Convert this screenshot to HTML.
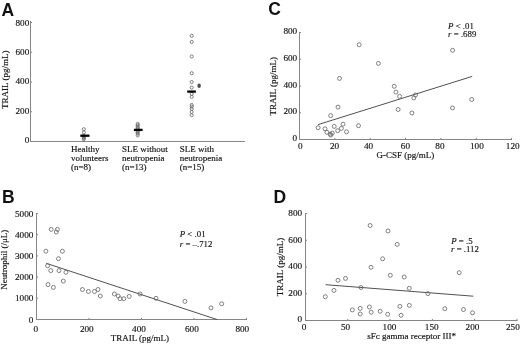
<!DOCTYPE html>
<html><head><meta charset="utf-8"><title>Figure</title>
<style>
html,body{margin:0;padding:0;background:#fff;}
body{width:520px;height:345px;overflow:hidden;font-family:"Liberation Serif",serif;}
svg{display:block;will-change:transform;filter:blur(0.3px);}
</style></head>
<body>
<svg width="520" height="345" viewBox="0 0 520 345"><line x1="30.50" y1="21.00" x2="30.50" y2="142.00" stroke="#858585" stroke-width="1.0"/><line x1="30.00" y1="141.50" x2="245.00" y2="141.50" stroke="#858585" stroke-width="1.0"/><line x1="30.50" y1="141.50" x2="32.10" y2="141.50" stroke="#858585" stroke-width="1.0"/><line x1="30.50" y1="111.75" x2="32.10" y2="111.75" stroke="#858585" stroke-width="1.0"/><line x1="30.50" y1="82.00" x2="32.10" y2="82.00" stroke="#858585" stroke-width="1.0"/><line x1="30.50" y1="52.25" x2="32.10" y2="52.25" stroke="#858585" stroke-width="1.0"/><line x1="30.50" y1="22.50" x2="32.10" y2="22.50" stroke="#858585" stroke-width="1.0"/><line x1="299.50" y1="32.00" x2="299.50" y2="140.00" stroke="#858585" stroke-width="1.0"/><line x1="299.00" y1="139.50" x2="512.00" y2="139.50" stroke="#858585" stroke-width="1.0"/><line x1="299.50" y1="139.50" x2="301.10" y2="139.50" stroke="#858585" stroke-width="1.0"/><line x1="299.50" y1="112.75" x2="301.10" y2="112.75" stroke="#858585" stroke-width="1.0"/><line x1="299.50" y1="86.00" x2="301.10" y2="86.00" stroke="#858585" stroke-width="1.0"/><line x1="299.50" y1="59.25" x2="301.10" y2="59.25" stroke="#858585" stroke-width="1.0"/><line x1="299.50" y1="32.50" x2="301.10" y2="32.50" stroke="#858585" stroke-width="1.0"/><line x1="334.83" y1="139.50" x2="334.83" y2="137.90" stroke="#858585" stroke-width="1.0"/><line x1="370.17" y1="139.50" x2="370.17" y2="137.90" stroke="#858585" stroke-width="1.0"/><line x1="405.50" y1="139.50" x2="405.50" y2="137.90" stroke="#858585" stroke-width="1.0"/><line x1="440.83" y1="139.50" x2="440.83" y2="137.90" stroke="#858585" stroke-width="1.0"/><line x1="476.17" y1="139.50" x2="476.17" y2="137.90" stroke="#858585" stroke-width="1.0"/><line x1="511.50" y1="139.50" x2="511.50" y2="137.90" stroke="#858585" stroke-width="1.0"/><line x1="318.10" y1="124.60" x2="472.20" y2="76.40" stroke="#505050" stroke-width="1.0"/><line x1="36.50" y1="213.00" x2="36.50" y2="320.00" stroke="#858585" stroke-width="1.0"/><line x1="36.00" y1="319.50" x2="247.00" y2="319.50" stroke="#858585" stroke-width="1.0"/><line x1="36.50" y1="319.50" x2="38.10" y2="319.50" stroke="#858585" stroke-width="1.0"/><line x1="36.50" y1="298.30" x2="38.10" y2="298.30" stroke="#858585" stroke-width="1.0"/><line x1="36.50" y1="277.10" x2="38.10" y2="277.10" stroke="#858585" stroke-width="1.0"/><line x1="36.50" y1="255.90" x2="38.10" y2="255.90" stroke="#858585" stroke-width="1.0"/><line x1="36.50" y1="234.70" x2="38.10" y2="234.70" stroke="#858585" stroke-width="1.0"/><line x1="36.50" y1="213.50" x2="38.10" y2="213.50" stroke="#858585" stroke-width="1.0"/><line x1="89.00" y1="319.50" x2="89.00" y2="317.90" stroke="#858585" stroke-width="1.0"/><line x1="141.50" y1="319.50" x2="141.50" y2="317.90" stroke="#858585" stroke-width="1.0"/><line x1="194.00" y1="319.50" x2="194.00" y2="317.90" stroke="#858585" stroke-width="1.0"/><line x1="246.50" y1="319.50" x2="246.50" y2="317.90" stroke="#858585" stroke-width="1.0"/><line x1="46.20" y1="263.30" x2="217.30" y2="319.60" stroke="#505050" stroke-width="1.0"/><line x1="305.50" y1="213.00" x2="305.50" y2="321.00" stroke="#858585" stroke-width="1.0"/><line x1="305.00" y1="320.50" x2="517.50" y2="320.50" stroke="#858585" stroke-width="1.0"/><line x1="305.50" y1="320.50" x2="307.10" y2="320.50" stroke="#858585" stroke-width="1.0"/><line x1="305.50" y1="293.75" x2="307.10" y2="293.75" stroke="#858585" stroke-width="1.0"/><line x1="305.50" y1="267.00" x2="307.10" y2="267.00" stroke="#858585" stroke-width="1.0"/><line x1="305.50" y1="240.25" x2="307.10" y2="240.25" stroke="#858585" stroke-width="1.0"/><line x1="305.50" y1="213.50" x2="307.10" y2="213.50" stroke="#858585" stroke-width="1.0"/><line x1="347.80" y1="320.50" x2="347.80" y2="318.90" stroke="#858585" stroke-width="1.0"/><line x1="390.10" y1="320.50" x2="390.10" y2="318.90" stroke="#858585" stroke-width="1.0"/><line x1="432.40" y1="320.50" x2="432.40" y2="318.90" stroke="#858585" stroke-width="1.0"/><line x1="474.70" y1="320.50" x2="474.70" y2="318.90" stroke="#858585" stroke-width="1.0"/><line x1="517.00" y1="320.50" x2="517.00" y2="318.90" stroke="#858585" stroke-width="1.0"/><line x1="325.50" y1="284.70" x2="473.30" y2="296.20" stroke="#505050" stroke-width="1.0"/><g fill="none" stroke="#6a6a6a" stroke-width="0.85"><circle cx="83.80" cy="129.20" r="1.55"/><circle cx="83.80" cy="132.40" r="1.55"/><circle cx="83.80" cy="135.90" r="1.55"/><circle cx="83.80" cy="136.90" r="1.55"/><circle cx="83.80" cy="138.00" r="1.55"/><circle cx="83.80" cy="139.20" r="1.55"/><circle cx="137.70" cy="123.90" r="1.55"/><circle cx="137.70" cy="125.20" r="1.55"/><circle cx="137.70" cy="126.60" r="1.55"/><circle cx="137.70" cy="128.00" r="1.55"/><circle cx="137.70" cy="129.50" r="1.55"/><circle cx="137.70" cy="131.20" r="1.55"/><circle cx="137.70" cy="132.40" r="1.55"/><circle cx="137.70" cy="133.70" r="1.55"/><circle cx="137.70" cy="135.40" r="1.55"/><circle cx="191.70" cy="35.80" r="1.55"/><circle cx="191.70" cy="41.90" r="1.55"/><circle cx="191.70" cy="56.50" r="1.55"/><circle cx="191.70" cy="73.20" r="1.55"/><circle cx="191.70" cy="82.00" r="1.55"/><circle cx="191.70" cy="87.60" r="1.55"/><circle cx="191.70" cy="94.00" r="1.55"/><circle cx="191.70" cy="96.80" r="1.55"/><circle cx="191.70" cy="104.90" r="1.55"/><circle cx="191.70" cy="106.60" r="1.55"/><circle cx="191.70" cy="109.00" r="1.55"/><circle cx="191.70" cy="112.00" r="1.55"/><circle cx="191.70" cy="115.20" r="1.55"/><circle cx="359.20" cy="44.80" r="1.98"/><circle cx="378.40" cy="63.40" r="1.98"/><circle cx="339.50" cy="78.40" r="1.98"/><circle cx="452.60" cy="50.30" r="1.98"/><circle cx="394.20" cy="86.30" r="1.98"/><circle cx="395.90" cy="92.10" r="1.98"/><circle cx="399.60" cy="96.40" r="1.98"/><circle cx="415.50" cy="95.00" r="1.98"/><circle cx="413.80" cy="97.90" r="1.98"/><circle cx="398.10" cy="109.50" r="1.98"/><circle cx="411.90" cy="113.00" r="1.98"/><circle cx="338.00" cy="107.10" r="1.98"/><circle cx="330.70" cy="115.60" r="1.98"/><circle cx="358.50" cy="125.70" r="1.98"/><circle cx="452.50" cy="107.90" r="1.98"/><circle cx="471.70" cy="99.50" r="1.98"/><circle cx="318.10" cy="127.70" r="1.98"/><circle cx="325.00" cy="128.80" r="1.98"/><circle cx="326.90" cy="132.30" r="1.98"/><circle cx="330.20" cy="134.20" r="1.98"/><circle cx="332.30" cy="133.10" r="1.98"/><circle cx="330.80" cy="135.00" r="1.98"/><circle cx="334.20" cy="126.40" r="1.98"/><circle cx="337.70" cy="130.70" r="1.98"/><circle cx="341.40" cy="128.40" r="1.98"/><circle cx="343.00" cy="124.20" r="1.98"/><circle cx="346.50" cy="131.80" r="1.98"/><circle cx="51.20" cy="229.40" r="1.98"/><circle cx="57.40" cy="229.40" r="1.98"/><circle cx="56.30" cy="232.00" r="1.98"/><circle cx="45.90" cy="251.20" r="1.98"/><circle cx="62.40" cy="251.20" r="1.98"/><circle cx="58.50" cy="258.70" r="1.98"/><circle cx="47.60" cy="265.70" r="1.98"/><circle cx="50.80" cy="270.60" r="1.98"/><circle cx="59.00" cy="270.60" r="1.98"/><circle cx="65.90" cy="272.30" r="1.98"/><circle cx="63.30" cy="281.10" r="1.98"/><circle cx="48.00" cy="284.60" r="1.98"/><circle cx="53.40" cy="287.40" r="1.98"/><circle cx="82.40" cy="289.50" r="1.98"/><circle cx="88.40" cy="291.50" r="1.98"/><circle cx="94.50" cy="291.50" r="1.98"/><circle cx="98.00" cy="289.50" r="1.98"/><circle cx="100.30" cy="296.00" r="1.98"/><circle cx="114.40" cy="294.00" r="1.98"/><circle cx="118.20" cy="296.00" r="1.98"/><circle cx="120.10" cy="298.70" r="1.98"/><circle cx="123.80" cy="298.70" r="1.98"/><circle cx="129.20" cy="296.40" r="1.98"/><circle cx="140.10" cy="294.00" r="1.98"/><circle cx="156.00" cy="298.30" r="1.98"/><circle cx="184.90" cy="301.40" r="1.98"/><circle cx="211.00" cy="307.90" r="1.98"/><circle cx="221.70" cy="303.80" r="1.98"/><circle cx="370.10" cy="225.50" r="1.98"/><circle cx="388.00" cy="231.00" r="1.98"/><circle cx="397.20" cy="244.40" r="1.98"/><circle cx="382.60" cy="258.80" r="1.98"/><circle cx="371.00" cy="267.30" r="1.98"/><circle cx="390.30" cy="275.30" r="1.98"/><circle cx="404.20" cy="277.00" r="1.98"/><circle cx="338.00" cy="280.30" r="1.98"/><circle cx="345.50" cy="278.40" r="1.98"/><circle cx="334.00" cy="290.40" r="1.98"/><circle cx="325.30" cy="296.70" r="1.98"/><circle cx="361.00" cy="287.50" r="1.98"/><circle cx="409.30" cy="288.30" r="1.98"/><circle cx="427.90" cy="293.60" r="1.98"/><circle cx="459.20" cy="272.70" r="1.98"/><circle cx="352.30" cy="309.90" r="1.98"/><circle cx="360.20" cy="308.40" r="1.98"/><circle cx="360.20" cy="314.00" r="1.98"/><circle cx="369.40" cy="307.00" r="1.98"/><circle cx="371.20" cy="312.20" r="1.98"/><circle cx="380.20" cy="311.30" r="1.98"/><circle cx="387.70" cy="314.30" r="1.98"/><circle cx="399.90" cy="306.40" r="1.98"/><circle cx="409.30" cy="305.40" r="1.98"/><circle cx="401.10" cy="315.30" r="1.98"/><circle cx="444.80" cy="308.70" r="1.98"/><circle cx="463.50" cy="309.50" r="1.98"/><circle cx="472.50" cy="312.80" r="1.98"/></g><line x1="80.3" y1="135.7" x2="89.5" y2="135.7" stroke="#000" stroke-width="2.3"/><line x1="133.9" y1="129.9" x2="142.6" y2="129.9" stroke="#000" stroke-width="2.3"/><line x1="187.2" y1="91.6" x2="195.9" y2="91.6" stroke="#000" stroke-width="2.3"/><ellipse cx="199.1" cy="85.7" rx="1.75" ry="2.2" fill="#505050"/><g font-family="Liberation Serif, serif" fill="#111" stroke="#111" stroke-width="0.15"><text x="1.6" y="15.9" font-family="Liberation Sans" font-weight="bold" font-size="17.5" fill="#111" stroke="none">A</text><text x="2.1" y="203.2" font-family="Liberation Sans" font-weight="bold" font-size="17.5" fill="#111" stroke="none">B</text><text x="268.3" y="15.3" font-family="Liberation Sans" font-weight="bold" font-size="17.5" fill="#111" stroke="none">C</text><text x="273.6" y="203.0" font-family="Liberation Sans" font-weight="bold" font-size="17.5" fill="#111" stroke="none">D</text><text x="29.30" y="142.95" text-anchor="end" font-size="9.2" >0</text><text x="29.30" y="113.75" text-anchor="end" font-size="9.2" >200</text><text x="29.30" y="84.45" text-anchor="end" font-size="9.2" >400</text><text x="29.30" y="54.95" text-anchor="end" font-size="9.2" >600</text><text x="29.30" y="25.85" text-anchor="end" font-size="9.2" >800</text><text transform="translate(7.50,79.80) rotate(-90)" text-anchor="middle" font-size="9.0">TRAIL (pg/mL)</text><text x="71.00" y="151.60" text-anchor="start" font-size="9.0" >Healthy</text><text x="71.00" y="160.70" text-anchor="start" font-size="9.0" >volunteers</text><text x="71.00" y="169.80" text-anchor="start" font-size="9.0" >(n=8)</text><text x="122.00" y="151.60" text-anchor="start" font-size="9.0" >SLE without</text><text x="122.00" y="160.70" text-anchor="start" font-size="9.0" >neutropenia</text><text x="122.00" y="169.80" text-anchor="start" font-size="9.0" >(n=13)</text><text x="179.80" y="151.60" text-anchor="start" font-size="9.0" >SLE with</text><text x="179.80" y="160.70" text-anchor="start" font-size="9.0" >neutropenia</text><text x="179.80" y="169.80" text-anchor="start" font-size="9.0" >(n=15)</text><text x="297.20" y="140.50" text-anchor="end" font-size="9.2" >0</text><text x="297.20" y="114.00" text-anchor="end" font-size="9.2" >200</text><text x="297.20" y="87.55" text-anchor="end" font-size="9.2" >400</text><text x="297.20" y="60.95" text-anchor="end" font-size="9.2" >600</text><text x="297.20" y="33.90" text-anchor="end" font-size="9.2" >800</text><text x="300.40" y="149.10" text-anchor="middle" font-size="9.2" >0</text><text x="334.50" y="149.10" text-anchor="middle" font-size="9.2" >20</text><text x="368.60" y="149.10" text-anchor="middle" font-size="9.2" >40</text><text x="405.40" y="149.10" text-anchor="middle" font-size="9.2" >60</text><text x="439.90" y="149.10" text-anchor="middle" font-size="9.2" >80</text><text x="476.90" y="149.10" text-anchor="middle" font-size="9.2" >100</text><text x="512.75" y="149.10" text-anchor="middle" font-size="9.2" >120</text><text transform="translate(275.50,86.20) rotate(-90)" text-anchor="middle" font-size="9.0">TRAIL (pg/mL)</text><text x="376.60" y="158.40" text-anchor="start" font-size="9.0" >G-CSF (pg/mL)</text><text x="448.1" y="28.6" font-size="8.8"><tspan font-style="italic">P</tspan> &lt; .01</text><text x="448.1" y="36.9" font-size="8.8"><tspan font-style="italic">r</tspan> = .689</text><text x="33.40" y="322.60" text-anchor="end" font-size="9.2" >0</text><text x="33.40" y="301.40" text-anchor="end" font-size="9.2" >1000</text><text x="33.40" y="280.20" text-anchor="end" font-size="9.2" >2000</text><text x="33.40" y="259.00" text-anchor="end" font-size="9.2" >3000</text><text x="33.40" y="237.80" text-anchor="end" font-size="9.2" >4000</text><text x="33.40" y="216.60" text-anchor="end" font-size="9.2" >5000</text><text x="35.90" y="331.50" text-anchor="middle" font-size="9.2" >0</text><text x="86.80" y="331.50" text-anchor="middle" font-size="9.2" >200</text><text x="139.00" y="331.50" text-anchor="middle" font-size="9.2" >400</text><text x="191.90" y="331.50" text-anchor="middle" font-size="9.2" >600</text><text x="242.30" y="331.50" text-anchor="middle" font-size="9.2" >800</text><text transform="translate(7.40,259.70) rotate(-90)" text-anchor="middle" font-size="9.0">Neutrophil (/&#956;L)</text><text x="110.70" y="341.30" text-anchor="start" font-size="9.0" >TRAIL (pg/mL)</text><text x="179.8" y="236.9" font-size="8.8"><tspan font-style="italic">P</tspan> &lt; .01</text><text x="179.8" y="246.7" font-size="8.8"><tspan font-style="italic">r</tspan> = &#8211;.712</text><text x="302.10" y="322.20" text-anchor="end" font-size="9.2" >0</text><text x="302.10" y="295.80" text-anchor="end" font-size="9.2" >200</text><text x="302.10" y="269.35" text-anchor="end" font-size="9.2" >400</text><text x="302.10" y="242.70" text-anchor="end" font-size="9.2" >600</text><text x="302.10" y="215.70" text-anchor="end" font-size="9.2" >800</text><text x="304.00" y="330.00" text-anchor="middle" font-size="9.2" >0</text><text x="345.50" y="330.00" text-anchor="middle" font-size="9.2" >50</text><text x="389.50" y="330.00" text-anchor="middle" font-size="9.2" >100</text><text x="431.70" y="330.00" text-anchor="middle" font-size="9.2" >150</text><text x="472.50" y="330.00" text-anchor="middle" font-size="9.2" >200</text><text x="512.90" y="330.00" text-anchor="middle" font-size="9.2" >250</text><text transform="translate(282.50,267.00) rotate(-90)" text-anchor="middle" font-size="9.0">TRAIL (pg/mL)</text><text x="367.30" y="338.70" text-anchor="start" font-size="9.0" >sFc gamma receptor III*</text><text x="451.3" y="243.5" font-size="8.8"><tspan font-style="italic">P</tspan> = .5</text><text x="451.0" y="251.8" font-size="8.8"><tspan font-style="italic">r</tspan> = .112</text></g></svg>
</body></html>
